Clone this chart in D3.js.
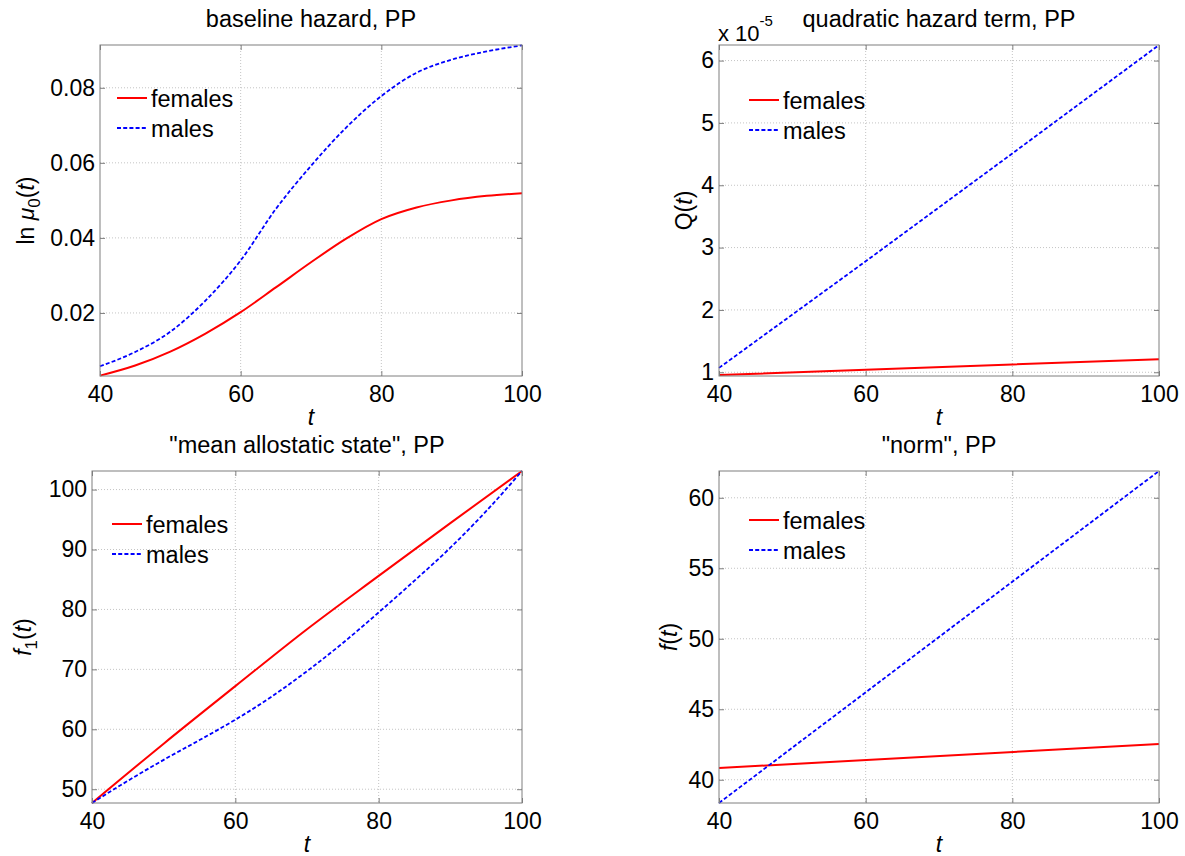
<!DOCTYPE html>
<html><head><meta charset="utf-8">
<script src="https://cdn.jsdelivr.net/npm/d3@7"></script>
<style>
body{margin:0;background:#fff}
text{font-family:"Liberation Sans", Arial, Helvetica, sans-serif;fill:#000}
</style>
</head><body>
<svg id="c" width="1185" height="856"></svg>
<script>
// ---------------- data ----------------
const seriesNames = ["females", "males"];
const xTicks = [40, 60, 80, 100];

// baseline hazard, ln mu0(t)
const hazardT = [40, 45, 50, 55, 60, 65, 70, 75, 80, 85, 90, 95, 100];
const hazardFemales = [0.0033, 0.0060, 0.0097, 0.0145, 0.0202, 0.0268, 0.0335, 0.0398, 0.0450, 0.0481, 0.0500, 0.0512, 0.0519];
const hazardMales   = [0.0058, 0.0096, 0.0150, 0.0233, 0.0340, 0.0477, 0.0592, 0.0694, 0.0778, 0.0840, 0.0875, 0.0897, 0.0913];
const hazardTicks = [0.02, 0.04, 0.06, 0.08];

// quadratic hazard term Q(t), in units of 1e-5
const quadT = [40, 60, 80, 100];
const quadFemales = [0.955, 1.04, 1.125, 1.21];
const quadMales   = [1.07, 2.78, 4.51, 6.25];
const quadTicks = [1, 2, 3, 4, 5, 6];

// mean allostatic state f1(t)
const allostFemT = [40, 50, 60, 70, 80, 90, 100];
const allostFemales = [47.7, 57.6, 67.2, 76.7, 85.6, 94.4, 103.1];
const allostMaleT = [40, 45, 50, 55, 60, 65, 70, 75, 80, 85, 90, 95, 100];
const allostMales = [47.7, 51.4, 54.9, 58.2, 61.6, 65.4, 69.7, 74.4, 79.5, 84.8, 90.3, 96.4, 103.1];
const allostTicks = [50, 60, 70, 80, 90, 100];

// norm f(t)
const normT = [40, 100];
const normFemales = [40.83, 42.53];
const normMales   = [38.35, 61.9];
const normTicks = [40, 45, 50, 55, 60];

// ---------------- layout ----------------
const panels = [
  {title: "baseline hazard, PP", box: [100, 522, 45, 376], yDomain: [0.0032, 0.0914], yTicks: hazardTicks, fmt: d3.format(".2f"),
   fem: [hazardT, hazardFemales], mal: [hazardT, hazardMales], curve: d3.curveMonotoneX,
   ylab: "hazard", ylabX: 34, legend: [117, 98]},
  {title: "quadratic hazard term, PP", box: [719, 1159, 45, 376], yDomain: [0.94, 6.25], yTicks: quadTicks, fmt: d3.format("d"),
   fem: [quadT, quadFemales], mal: [quadT, quadMales], curve: d3.curveLinear,
   ylab: "Q", ylabX: 692, legend: [749, 100], exponent: true},
  {title: "\"mean allostatic state\", PP", box: [92, 522, 471, 803], yDomain: [47.7, 103.1], yTicks: allostTicks, fmt: d3.format("d"),
   fem: [allostFemT, allostFemales], mal: [allostMaleT, allostMales], curve: d3.curveMonotoneX,
   ylab: "f1", ylabX: 31, legend: [112, 524]},
  {title: "\"norm\", PP", box: [719, 1159, 471, 803], yDomain: [38.35, 61.9], yTicks: normTicks, fmt: d3.format("d"),
   fem: [normT, normFemales], mal: [normT, normMales], curve: d3.curveLinear,
   ylab: "f", ylabX: 677, legend: [749, 520]}
];

const svg = d3.select("#c");
const FS = 23;
const boxColor = "#7f7f7f";
const gridColor = "#c4c4c4";
const red = "#ff0000", blue = "#0000ff";

panels.forEach(p => {
  const [x0, x1, y0, y1] = p.box;
  const x = d3.scaleLinear().domain([40, 100]).range([x0, x1]);
  const y = d3.scaleLinear().domain(p.yDomain).range([y1, y0]);
  const g = svg.append("g");

  // grid
  g.selectAll(".gx").data(xTicks.filter(t => t > 40 && t < 100)).join("line")
    .attr("x1", d => x(d)).attr("x2", d => x(d)).attr("y1", y0).attr("y2", y1)
    .attr("stroke", gridColor).attr("stroke-dasharray", "1,2").attr("stroke-width", 1);
  g.selectAll(".gy").data(p.yTicks).join("line")
    .attr("x1", x0).attr("x2", x1).attr("y1", d => y(d)).attr("y2", d => y(d))
    .attr("stroke", gridColor).attr("stroke-dasharray", "1,2").attr("stroke-width", 1);

  // lines
  const line = d3.line().x(d => x(d[0])).y(d => y(d[1])).curve(p.curve);
  const femPts = d3.zip(p.fem[0], p.fem[1]);
  const malPts = d3.zip(p.mal[0], p.mal[1]);
  g.append("path").attr("d", line(femPts)).attr("fill", "none").attr("stroke", red).attr("stroke-width", 2);
  g.append("path").attr("d", line(malPts)).attr("fill", "none").attr("stroke", blue).attr("stroke-width", 1.8)
    .attr("stroke-dasharray", "4,2.2");

  // axes via d3 axis (ticks inside)
  const axB = d3.axisBottom(x).tickValues(xTicks).tickSizeInner(-5).tickSizeOuter(0).tickPadding(10);
  const gb = g.append("g").attr("transform", `translate(0,${y1})`).call(axB);
  const axT = d3.axisTop(x).tickValues(xTicks).tickSizeInner(-5).tickSizeOuter(0).tickFormat("");
  const gt = g.append("g").attr("transform", `translate(0,${y0})`).call(axT);
  const axL = d3.axisLeft(y).tickValues(p.yTicks).tickSizeInner(-5).tickSizeOuter(0).tickPadding(5).tickFormat(p.fmt);
  const gl = g.append("g").attr("transform", `translate(${x0},0)`).call(axL);
  const axR = d3.axisRight(y).tickValues(p.yTicks).tickSizeInner(-5).tickSizeOuter(0).tickFormat("");
  const gr = g.append("g").attr("transform", `translate(${x1},0)`).call(axR);
  [gb, gt, gl, gr].forEach(a => {
    a.select(".domain").remove();
    a.selectAll(".tick line").attr("stroke", boxColor);
    a.selectAll(".tick text").attr("font-size", FS).attr("fill", "#000")
      .style("font-family", '"Liberation Sans", Arial, sans-serif');
  });
  gb.selectAll(".tick text").attr("dy", "0.71em");

  // box
  g.append("rect").attr("x", x0).attr("y", y0).attr("width", x1 - x0).attr("height", y1 - y0)
    .attr("fill", "none").attr("stroke", boxColor).attr("stroke-width", 1);

  // title
  g.append("text").attr("x", (x0 + x1) / 2).attr("y", y0 - 18).attr("text-anchor", "middle")
    .attr("font-size", 23.5).text(p.title);

  // x label
  g.append("text").attr("x", (x0 + x1) / 2).attr("y", y1 + 49).attr("text-anchor", "middle")
    .attr("font-size", FS).attr("font-style", "italic").text("t");

  // y label
  const cy = (y0 + y1) / 2;
  const yl = g.append("text").attr("transform", `translate(${p.ylabX},${cy}) rotate(-90)`)
    .attr("text-anchor", "middle").attr("font-size", FS);
  if (p.ylab === "hazard") {
    yl.append("tspan").text("ln ");
    yl.append("tspan").attr("font-style", "italic").text("μ");
    yl.append("tspan").attr("font-size", 17).attr("dy", 6).text("0");
    yl.append("tspan").attr("dy", -6).text("(");
    yl.append("tspan").attr("font-style", "italic").text("t");
    yl.append("tspan").text(")");
  } else if (p.ylab === "Q") {
    yl.append("tspan").text("Q(");
    yl.append("tspan").attr("font-style", "italic").text("t");
    yl.append("tspan").text(")");
  } else if (p.ylab === "f1") {
    yl.append("tspan").attr("font-style", "italic").text("f");
    yl.append("tspan").attr("font-size", 17).attr("dy", 6).text("1");
    yl.append("tspan").attr("dy", -6).text("(");
    yl.append("tspan").attr("font-style", "italic").text("t");
    yl.append("tspan").text(")");
  } else {
    yl.append("tspan").attr("font-style", "italic").text("f");
    yl.append("tspan").text("(");
    yl.append("tspan").attr("font-style", "italic").text("t");
    yl.append("tspan").text(")");
  }

  // exponent label
  if (p.exponent) {
    const ex = g.append("text").attr("x", x0 - 1).attr("y", y0 - 4).attr("font-size", 22);
    ex.append("tspan").text("x 10");
    ex.append("tspan").attr("font-size", 15).attr("dy", -15).text("-5");
  }

  // legend
  const [lx, ly] = p.legend;
  const leg = g.append("g");
  seriesNames.forEach((name, i) => {
    const yy = ly + i * 30;
    leg.append("line").attr("x1", lx).attr("x2", lx + 30).attr("y1", yy).attr("y2", yy)
      .attr("stroke", i === 0 ? red : blue).attr("stroke-width", i === 0 ? 2 : 1.8)
      .attr("stroke-dasharray", i === 0 ? null : "4,2.2");
    leg.append("text").attr("x", lx + 34).attr("y", yy + 8.5).attr("font-size", 23.5).text(name);
  });
});
</script>
</body></html>
